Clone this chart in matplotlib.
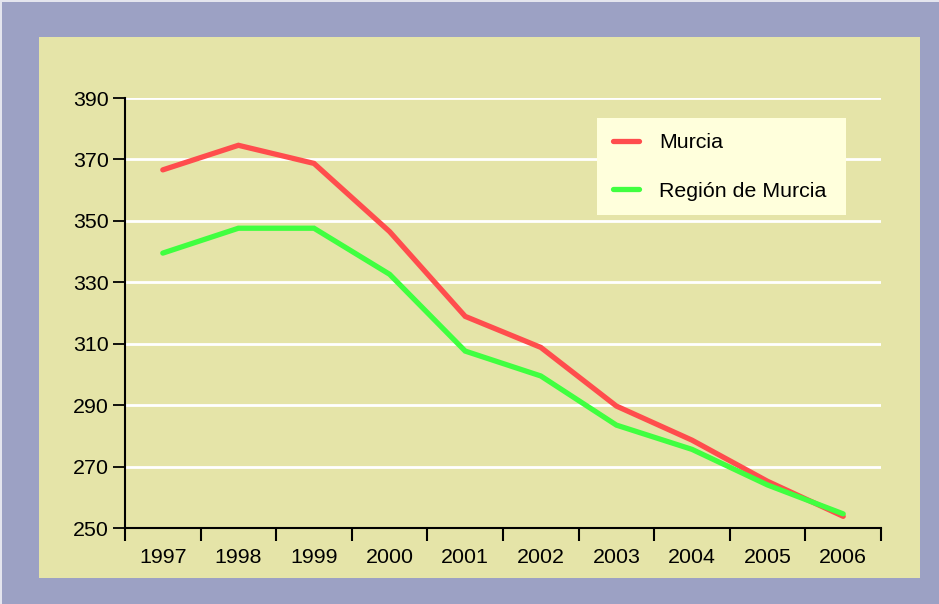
import matplotlib
matplotlib.use("Agg")
import matplotlib.pyplot as plt
from matplotlib.patches import Rectangle
import numpy as np

years = ["1997", "1998", "1999", "2000", "2001", "2002", "2003", "2004", "2005", "2006"]
murcia = [366.6, 374.6, 368.7, 346.5, 318.9, 308.8, 289.7, 278.6, 265.2, 253.8]
region = [339.5, 347.6, 347.6, 332.6, 307.6, 299.5, 283.5, 275.6, 264.0, 254.6]
series_names = ["Murcia", "Región de Murcia"]
yticks = [250, 270, 290, 310, 330, 350, 370, 390]

W, H = 939, 604
FS = 15.4
plt.rcParams['font.family'] = ['Liberation Sans', 'DejaVu Sans']
fig = plt.figure(figsize=(W / 100, H / 100), dpi=100)
fig.patch.set_facecolor('#9CA1C4')

def fx(px):
    return px / W

def fy(py):
    return 1 - py / H

# light edge strips at top/left
fig.add_artist(Rectangle((0, fy(2)), 1, 2 / H, transform=fig.transFigure,
                         facecolor='#E4E5EE', edgecolor='none', zorder=0))
fig.add_artist(Rectangle((0, 0), 2 / W, 1, transform=fig.transFigure,
                         facecolor='#E4E5EE', edgecolor='none', zorder=0))
# inner beige panel
fig.add_artist(Rectangle((fx(39), fy(578)), (920 - 39) / W, (578 - 37) / H,
                         transform=fig.transFigure, facecolor='#E5E4A8',
                         edgecolor='none', zorder=-1))

ax = fig.add_axes([fx(125), fy(528), (881 - 125) / W, (528 - 98) / H])
ax.set_zorder(1)
ax.set_facecolor('none')
x = np.arange(len(years))
ax.set_xlim(-0.5, len(years) - 0.5)
ax.set_ylim(250, 390)

for v in yticks[1:]:
    ax.axhline(v, color='white', lw=2, zorder=1)

l1, = ax.plot(x, murcia, color='#FF4D4D', lw=3.8, solid_capstyle='round',
              solid_joinstyle='miter', zorder=3, label=series_names[0])
l2, = ax.plot(x, region, color='#40FF40', lw=3.8, solid_capstyle='round',
              solid_joinstyle='miter', zorder=3, label=series_names[1])

for s in ['top', 'right']:
    ax.spines[s].set_visible(False)
for s in ['left', 'bottom']:
    ax.spines[s].set_color('black')
    ax.spines[s].set_linewidth(1.5)
    ax.spines[s].set_zorder(4)

ax.set_yticks(yticks)
ax.set_yticklabels([str(v) for v in yticks])
ax.tick_params(axis='y', length=8.6, width=1.3, pad=3.2, labelsize=FS, colors='black')
ax.set_xticks(x)
ax.set_xticklabels(years)
ax.set_xticks(np.arange(-0.5, len(years), 1.0), minor=True)
ax.tick_params(axis='x', which='major', length=0, pad=14.5, labelsize=FS)
ax.tick_params(axis='x', which='minor', length=9.5, width=1.5, color='black')

# legend box
ax.add_patch(Rectangle((fx(597), fy(215)), (846 - 597) / W, (215 - 118) / H,
                       transform=fig.transFigure, facecolor='#FFFFDC',
                       edgecolor='none', zorder=2, clip_on=False))
leg = ax.legend(handles=[l1, l2], loc='upper left',
                bbox_to_anchor=(fx(613), fy(133)), bbox_transform=fig.transFigure,
                frameon=False, fontsize=FS, borderpad=0, borderaxespad=0,
                handlelength=1.2, handletextpad=0.95, labelspacing=1.4)
leg.set_zorder(5)

fig.savefig('out.png', dpi=100, facecolor=fig.get_facecolor())
